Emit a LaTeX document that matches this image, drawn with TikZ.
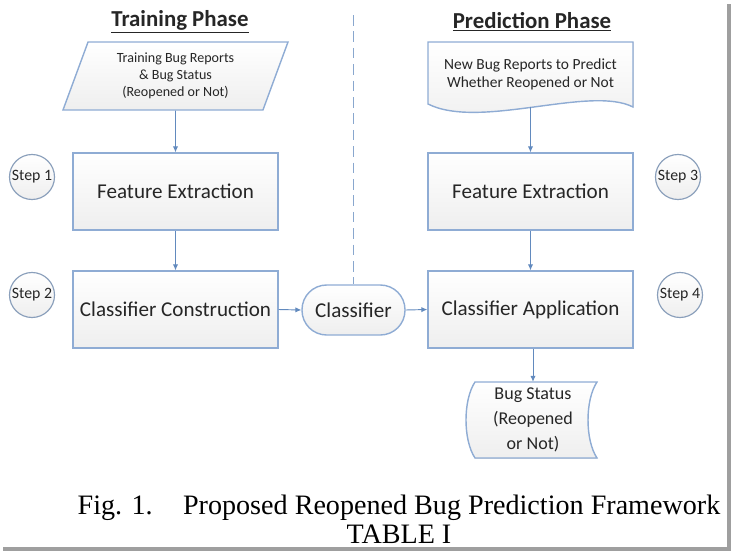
\documentclass[tikz,border=0pt]{standalone}
\usepackage{fontspec}
\setmainfont{Carlito}
\newfontfamily\capfont{Liberation Serif}
\usetikzlibrary{shapes.geometric,arrows.meta}

\definecolor{edgeblue}{RGB}{143,172,212}
\definecolor{arrowblue}{RGB}{98,138,190}
\definecolor{inktext}{RGB}{38,38,38}

\tikzset{
  fillgrad/.style={top color=white, bottom color=gray!13},
  box/.style={draw=edgeblue, line width=1.2pt, fillgrad, minimum width=6.15cm,
    minimum height=2.31cm, text=inktext, font=\fontsize{18}{20}\selectfont},
  stepcirc/.style={circle, draw=edgeblue!70!gray, line width=1pt, fillgrad,
    minimum size=1.35cm, inner sep=0pt, text=inktext, font=\fontsize{13.5}{15}\selectfont},
  flow/.style={draw=arrowblue, line width=0.8pt, -{Latex[length=5pt,width=4.5pt]}},
  phase/.style={text=inktext, font=\bfseries\fontsize{19.5}{22}\selectfont},
}

\begin{document}
\begin{tikzpicture}[x=0.03cm,y=-0.03cm]

\useasboundingbox (0,0) rectangle (732,553);

% page shadow
\fill[gray!75] (727,4) rectangle (731,551);
\fill[gray!75] (3,547) rectangle (731,551);

% titles
\node[phase] (trainhead) at (180,22) {\underline{Training Phase}};
\node[phase] (predhead) at (532,22) {\underline{Prediction Phase}};

% training side
\node[trapezium, trapezium left angle=65, trapezium right angle=115,
  trapezium stretches body, draw=edgeblue, line width=1.2pt, fillgrad,
  minimum width=6.75cm, minimum height=2.04cm, align=center, text=inktext,
  font=\fontsize{12}{14.5}\selectfont] (trainrep) at (175.5,76)
  {Training Bug Reports\\ \& Bug Status\\ (Reopened or Not)};
\node[box] (feat1) at (175.5,191.5) {Feature Extraction};
\node[box] (build) at (175.5,309.5) {Classifier Construction};

% classifier
\node[draw=edgeblue, line width=1.2pt, fillgrad, rounded corners=0.74cm,
  minimum width=3.09cm, minimum height=1.5cm, text=inktext,
  font=\fontsize{18}{20}\selectfont] (model) at (353.5,310) {Classifier};

% prediction side
\fill[fillgrad, draw=edgeblue, line width=1.2pt] (428,42) -- (633,42) -- (633,107)
  .. controls (590,85) and (480,130) .. (428,104) -- cycle;
\node[minimum width=6.15cm, minimum height=1.95cm, align=center, text=inktext,
  font=\fontsize{13.2}{15.5}\selectfont] (newrep) at (530.5,74)
  {New Bug Reports to Predict\\ Whether Reopened or Not};
\node[box] (feat2) at (530.5,191.5) {Feature Extraction};
\node[box] (apply) at (530.5,309.5) {Classifier Application};

\fill[fillgrad, draw=edgeblue, line width=1.2pt] (475,382) -- (597,382)
  .. controls (585,400) and (585,440) .. (597,458) -- (475,458)
  .. controls (463,440) and (463,400) .. (475,382) -- cycle;
\node[minimum width=3.6cm, minimum height=2.28cm, align=center, text=inktext,
  font=\fontsize{15.4}{21.5}\selectfont] (status) at (533,420)
  {Bug Status\\ (Reopened\\ or Not)};

% steps
\node[stepcirc] (s1) at (32,177) {Step 1};
\node[stepcirc] (s2) at (32,295) {Step 2};
\node[stepcirc] (s3) at (678,177) {Step 3};
\node[stepcirc] (s4) at (680,295) {Step 4};

% divider
\coordinate (divtop) at (353.5,15);
\draw[arrowblue!75, line width=1.2pt, dash pattern=on 9pt off 5pt] (divtop) -- (model.north);

% arrows
\draw[flow] (trainrep.south) -- (feat1.north);
\draw[flow] (feat1.south) -- (build.north);
\draw[flow] (build.east) -- (model.west);
\draw[flow] (model.east) -- (apply.west);
\draw[flow] (newrep.south) -- (feat2.north);
\draw[flow] (feat2.south) -- (apply.north);
\draw[flow] (apply.south -| status.north) -- (status.north);

% caption
\node[anchor=base, font=\capfont\fontsize{24}{28}\selectfont] (figcap) at (399,514)
  {Fig. 1.\hspace{26pt}Proposed Reopened Bug Prediction Framework};
\node[anchor=base, font=\capfont\fontsize{24}{28}\selectfont] (tabcap) at (399,543)
  {TABLE I};

\end{tikzpicture}
\end{document}
